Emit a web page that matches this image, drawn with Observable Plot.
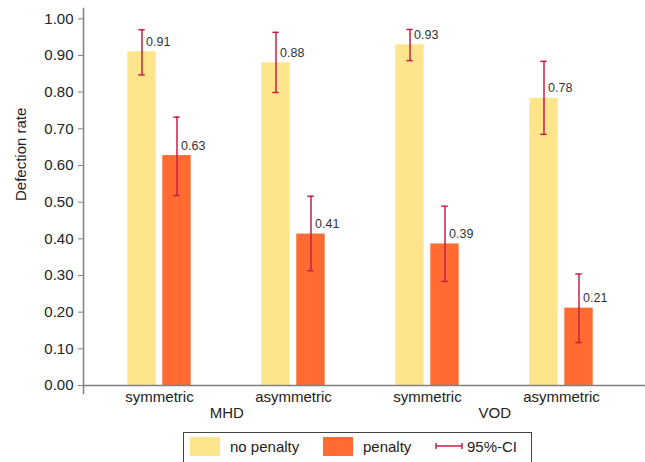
<!DOCTYPE html>
<html>
<head>
<meta charset="utf-8">
<script src="https://cdn.jsdelivr.net/npm/d3@7"></script>
<script src="https://cdn.jsdelivr.net/npm/@observablehq/plot@0.6"></script>
<style>
  html, body { margin: 0; padding: 0; background: #fff; }
  body { font-family: "Liberation Sans", Arial, sans-serif; width: 645px; }
  #legend { position: relative; margin-left: 183px; margin-top: 7px; width: 349px; height: 34px; border: 1px solid #444; box-sizing: border-box; font-size: 15px; color: #222; }
  #legend .it { position: absolute; }
</style>
</head>
<body>
<div id="chart"></div>
<div id="legend"></div>
<script>
// ---- data ----
const treatments = ["MHD", "MHD", "VOD", "VOD"];
const conditions = ["symmetric", "asymmetric", "symmetric", "asymmetric"];
const seriesNames = ["no penalty", "penalty"];
const noPenalty   = [0.910, 0.880, 0.929, 0.783];
const noPenaltyLo = [0.847, 0.799, 0.886, 0.685];
const noPenaltyHi = [0.970, 0.963, 0.971, 0.884];
const penalty     = [0.627, 0.413, 0.386, 0.211];
const penaltyLo   = [0.518, 0.313, 0.284, 0.117];
const penaltyHi   = [0.732, 0.516, 0.489, 0.304];
const yTicks = [0, 0.1, 0.2, 0.3, 0.4, 0.5, 0.6, 0.7, 0.8, 0.9, 1.0];
const ciLabel = "95%-CI";

const colors = ["#fee58b", "#ff6b31"];
const ciColor = "#c81e46";
const axisColor = "#808080";
const textColor = "#222";

// ---- table ----
const keys = treatments.map((t, i) => `${t} ${conditions[i]}`);
const rows = [];
keys.forEach((k, i) => {
  rows.push({key: k, series: seriesNames[0], value: noPenalty[i], lo: noPenaltyLo[i], hi: noPenaltyHi[i]});
  rows.push({key: k, series: seriesNames[1], value: penalty[i], lo: penaltyLo[i], hi: penaltyHi[i]});
});
const condOf = Object.fromEntries(keys.map((k, i) => [k, conditions[i]]));
const treatRows = [...new Set(treatments)].map(t => ({t, key: keys[treatments.indexOf(t)]}));

// ---- layout ----
const W = 645, H = 425, mL = 83, mR = 0, mT = 8, mB = 32;
const xInsetL = 7.6, xInsetR = 16;
const bw = (W - mL - mR - xInsetL - xInsetR) / keys.length;
const off = 17.5, barW = 29, capW = 7;

const seriesMarks = (s, sign) => {
  const data = rows.filter(d => d.series === s);
  const color = colors[seriesNames.indexOf(s)];
  return [
    Plot.barY(data, {x: "key", y: "value", fill: color, dx: sign * off,
      insetLeft: (bw - barW) / 2, insetRight: (bw - barW) / 2})
  ];
};
const ciMarks = (s, sign) => {
  const data = rows.filter(d => d.series === s);
  return [
    Plot.ruleX(data, {x: "key", y1: "lo", y2: "hi", dx: sign * off, stroke: ciColor, strokeWidth: 1.5}),
    Plot.tickY(data, {x: "key", y: "lo", dx: sign * off, stroke: ciColor, strokeWidth: 1.5,
      insetLeft: (bw - capW) / 2, insetRight: (bw - capW) / 2}),
    Plot.tickY(data, {x: "key", y: "hi", dx: sign * off, stroke: ciColor, strokeWidth: 1.5,
      insetLeft: (bw - capW) / 2, insetRight: (bw - capW) / 2}),
    Plot.text(data, {x: "key", y: "value", text: d => d3.format(".2f")(d.value),
      dx: sign * off + 4, dy: -10, textAnchor: "start", lineAnchor: "middle",
      fontSize: 12.5, fill: "#333"})
  ];
};

const plot = Plot.plot({
  width: W, height: H,
  marginLeft: mL, marginRight: mR, marginTop: mT, marginBottom: mB,
  style: {fontFamily: "'Liberation Sans', Arial, sans-serif", fontSize: "15px", background: "#fff"},
  x: {type: "band", domain: keys, padding: 0, insetLeft: xInsetL, insetRight: xInsetR, label: null},
  y: {domain: [0, 1], insetTop: 10.3, insetBottom: 8, label: null},
  marks: [
    ...seriesMarks(seriesNames[0], -1),
    ...seriesMarks(seriesNames[1], 1),
    Plot.frame({anchor: "left", stroke: axisColor, strokeWidth: 1.5}),
    Plot.ruleY([0], {stroke: axisColor, strokeWidth: 1.5}),
    Plot.axisY({ticks: yTicks, tickFormat: d3.format(".2f"), tickSize: 5, tickPadding: 5,
      stroke: axisColor, fill: textColor, label: null}),
    Plot.axisX({tickSize: 0, tickPadding: 6, dy: -8, tickFormat: k => condOf[k], fill: textColor, label: null}),
    Plot.text(treatRows, {x: "key", text: "t", frameAnchor: "bottom", dx: bw / 2, dy: 20,
      lineAnchor: "middle", fill: textColor, fontSize: 15}),
    Plot.text(["Defection rate"], {frameAnchor: "left", dx: -62, rotate: -90,
      lineAnchor: "middle", fill: textColor, fontSize: 15}),
    ...ciMarks(seriesNames[0], -1),
    ...ciMarks(seriesNames[1], 1)
  ]
});
document.getElementById("chart").appendChild(plot);

// ---- legend ----
const lg = d3.select("#legend");
const items = [
  {type: "swatch", color: colors[0], left: 6},
  {type: "text", text: seriesNames[0], left: 46},
  {type: "swatch", color: colors[1], left: 139},
  {type: "text", text: seriesNames[1], left: 179},
  {type: "ci", left: 251},
  {type: "text", text: ciLabel, left: 283}
];
items.forEach(it => {
  if (it.type === "swatch") {
    lg.append("div").attr("class", "it")
      .style("left", it.left + "px").style("top", "4px")
      .style("width", "30px").style("height", "19px").style("background", it.color);
  } else if (it.type === "text") {
    lg.append("div").attr("class", "it")
      .style("left", it.left + "px").style("top", "5px").style("line-height", "18px")
      .text(it.text);
  } else {
    const s = lg.append("svg").attr("class", "it")
      .style("left", it.left + "px").style("top", "7px")
      .attr("width", 28).attr("height", 12);
    s.append("path").attr("d", "M1,6H27M1,3V9M27,3V9")
      .attr("stroke", ciColor).attr("stroke-width", 1.5).attr("fill", "none");
  }
});
</script>
</body>
</html>
